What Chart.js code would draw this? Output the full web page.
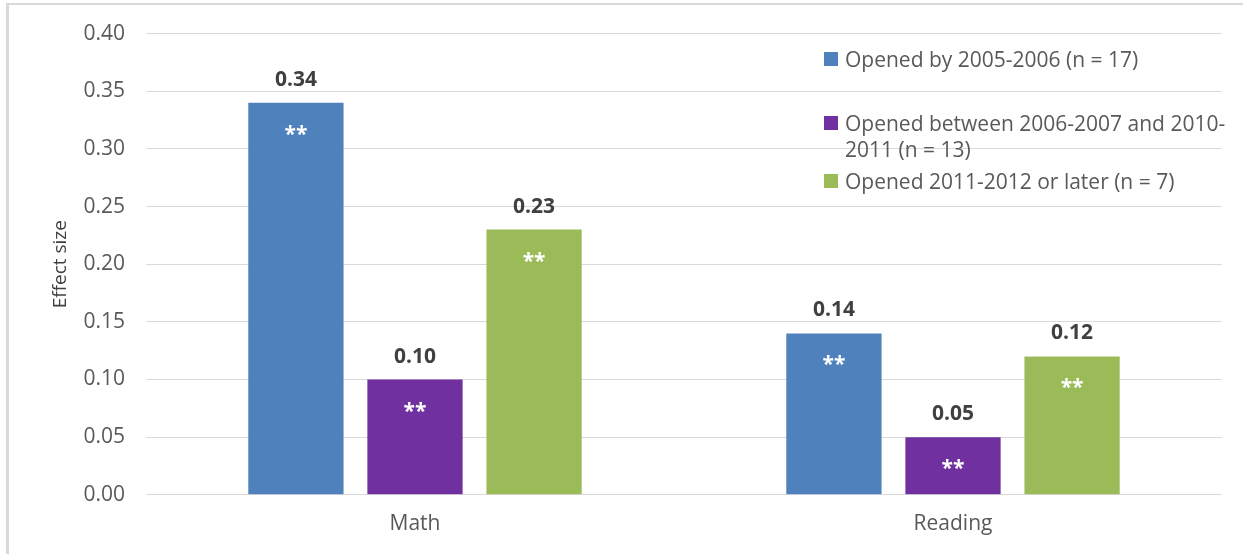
<!DOCTYPE html>
<html>
<head>
<meta charset="utf-8">
<script src="https://cdn.jsdelivr.net/npm/chart.js@4/dist/chart.umd.min.js"></script>
<style>
  html, body { margin: 0; padding: 0; background: #fff; }
  canvas { display: block; }
</style>
</head>
<body>
<canvas id="c" width="1243" height="554"></canvas>
<script>
// ---- Data ----
const categories = ['Math', 'Reading'];
const seriesNames = [
  'Opened by 2005-2006 (n = 17)',
  'Opened between 2006-2007 and 2010-2011 (n = 13)',
  'Opened 2011-2012 or later (n = 7)'
];
const legendLines = [
  ['Opened by 2005-2006 (n = 17)'],
  ['Opened between 2006-2007 and 2010-', '2011 (n = 13)'],
  ['Opened 2011-2012 or later (n = 7)']
];
const openedBy2005 = [0.34, 0.14];
const opened2006to2010 = [0.10, 0.05];
const opened2011later = [0.23, 0.12];
const sigOpenedBy2005 = ['**', '**'];
const sigOpened2006to2010 = ['**', '**'];
const sigOpened2011later = ['**', '**'];
const yTicks = [0.00, 0.05, 0.10, 0.15, 0.20, 0.25, 0.30, 0.35, 0.40];
const yTitle = 'Effect size';

const colors = ['#4F81BD', '#7030A0', '#9BBB59'];
const FONT = '"Open Sans", "Noto Sans", sans-serif';

const seriesValues = [openedBy2005, opened2006to2010, opened2011later];
const seriesSig = [sigOpenedBy2005, sigOpened2006to2010, sigOpened2011later];

const framePlugin = {
  id: 'frame',
  beforeDraw(chart) {
    const ctx = chart.ctx;
    ctx.save();
    ctx.fillStyle = '#ffffff';
    ctx.fillRect(0, 0, chart.width, chart.height);
    ctx.fillStyle = '#d9d9d9';
    ctx.fillRect(6, 3, chart.width - 6, 2);
    ctx.fillRect(6, 3, 3, chart.height - 3);
    ctx.restore();
  }
};

const labelPlugin = {
  id: 'barLabels',
  afterDatasetsDraw(chart) {
    const ctx = chart.ctx;
    ctx.save();
    ctx.textAlign = 'center';
    ctx.textBaseline = 'alphabetic';
    chart.data.datasets.forEach((ds, i) => {
      const meta = chart.getDatasetMeta(i);
      meta.data.forEach((bar, j) => {
        ctx.font = 'bold 21px ' + FONT;
        ctx.fillStyle = '#404040';
        ctx.fillText(ds.data[j].toFixed(2), bar.x, bar.y - 17);
        ctx.fillStyle = '#ffffff';
        ctx.fillText(seriesSig[i][j], bar.x, bar.y + 38);
      });
    });
    ctx.restore();
  }
};

const legendPlugin = {
  id: 'insideLegend',
  afterDraw(chart) {
    const ctx = chart.ctx;
    const area = chart.chartArea;
    const x0 = area.right - 398;
    const itemCenters = [59, 123, 181];
    ctx.save();
    ctx.font = '21px ' + FONT;
    ctx.textAlign = 'left';
    ctx.textBaseline = 'alphabetic';
    chart.data.datasets.forEach((ds, i) => {
      const cy = itemCenters[i];
      ctx.fillStyle = ds.backgroundColor;
      ctx.fillRect(x0, cy - 7, 14, 14);
      ctx.fillStyle = '#595959';
      legendLines[i].forEach((line, k) => {
        ctx.fillText(line, x0 + 21, cy + 7.5 + k * 26);
      });
    });
    ctx.restore();
  }
};

new Chart(document.getElementById('c'), {
  type: 'bar',
  data: {
    labels: categories,
    datasets: seriesNames.map((name, i) => ({
      label: name,
      data: seriesValues[i],
      backgroundColor: colors[i],
      borderWidth: 0,
      categoryPercentage: 0.664,
      barPercentage: 0.8
    }))
  },
  options: {
    responsive: false,
    animation: false,
    devicePixelRatio: 1,
    layout: { padding: { top: 32, right: 21, bottom: 0, left: 45 } },
    plugins: {
      legend: { display: false },
      tooltip: { enabled: false }
    },
    scales: {
      x: {
        grid: { display: false, drawTicks: false },
        border: { display: false },
        ticks: { font: { family: FONT, size: 21 }, color: '#595959', padding: 17 }
      },
      y: {
        min: 0,
        max: 0.4,
        afterBuildTicks(scale) { scale.ticks = yTicks.map(v => ({ value: v })); },
        afterFit(scale) { scale.width = 101; },
        grid: { color: '#d9d9d9', lineWidth: 1, drawTicks: false },
        border: { display: false },
        ticks: {
          font: { family: FONT, size: 21 },
          color: '#595959',
          padding: 21,
          callback: v => Number(v).toFixed(2)
        },
        title: {
          display: true,
          text: yTitle,
          font: { family: FONT, size: 19 },
          color: '#404040',
          padding: 4
        }
      }
    }
  },
  plugins: [framePlugin, labelPlugin, legendPlugin]
});
</script>
</body>
</html>
